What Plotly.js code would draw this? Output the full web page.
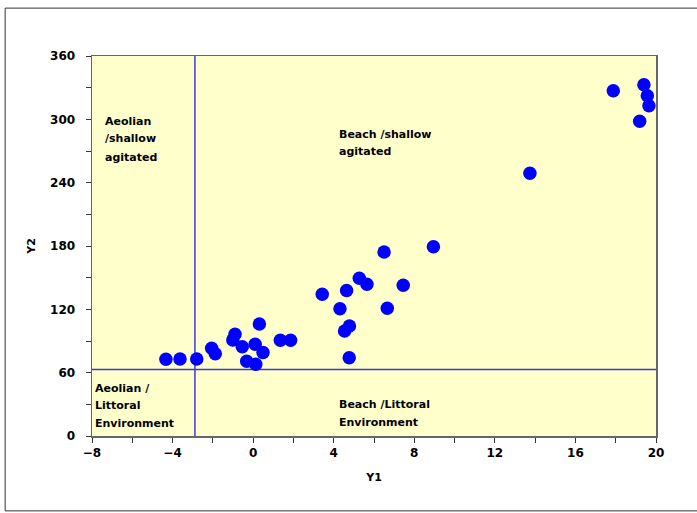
<!DOCTYPE html>
<html>
<head>
<meta charset="utf-8">
<script src="https://cdn.plot.ly/plotly-3.0.1.min.js"></script>
<style>html,body{margin:0;padding:0;background:#fff;}#chart{width:697px;height:513px;}</style>
</head>
<body>
<div id="chart"></div>
<script>
// Sample values (Y1, Y2)
var y1Values = [-4.33, -3.63, -2.80, -2.06, -1.88, -0.90, -1.01, -0.54, -0.32, 0.13, 0.10, 0.49, 0.31, 1.35, 1.86,
  3.43, 4.31, 4.64, 5.27, 5.65, 4.54, 4.78, 4.77, 6.50, 6.66, 7.45, 8.95, 13.74, 17.88, 19.40, 19.57, 19.65, 19.19];
var y2Values = [72.7, 72.9, 72.9, 83.1, 78.0, 96.3, 90.9, 84.6, 70.8, 68.0, 87.0, 79.1, 106.1, 90.8, 90.8,
  134.2, 120.6, 137.8, 149.4, 143.7, 99.5, 104.2, 74.2, 174.3, 121.0, 142.8, 179.3, 248.9, 327.1, 332.8, 322.4, 312.9, 298.1];

// Discriminant thresholds
var y1Threshold = -2.89;
var y2Threshold = 63;
var xRange = [-8, 20];
var yRange = [0, 360];

// Region labels
var regionLines = ["Aeolian", "/shallow", "agitated", "Beach /shallow", "agitated",
  "Aeolian /", "Littoral", "Environment", "Beach /Littoral", "Environment"];
var regionX = [-7.45, -7.45, -7.45, 4.15, 4.15, -7.97, -7.97, -7.97, 4.15, 4.15];
var regionY = [298.4, 281.4, 264.3, 285.8, 269.3, 45.2, 28.7, 12.0, 29.4, 12.6];

var lineColor = '#3a3ae0';
var traces = [
  {x: [y1Threshold, y1Threshold], y: yRange, mode: 'lines', line: {color: lineColor, width: 1.5}, hoverinfo: 'skip', showlegend: false},
  {x: xRange, y: [y2Threshold, y2Threshold], mode: 'lines', line: {color: lineColor, width: 1.5}, hoverinfo: 'skip', showlegend: false},
  {x: y1Values, y: y2Values, mode: 'markers', marker: {color: '#0000FF', size: 13.5}, showlegend: false}
];

var fontFam = 'DejaVu Sans, Verdana, sans-serif';
var annotations = regionLines.map(function(t, i) {
  return {x: regionX[i], y: regionY[i], xref: 'x', yref: 'y', text: '<b>' + t + '</b>', showarrow: false,
    xanchor: 'left', yanchor: 'middle', font: {family: fontFam, size: 11, color: '#000', weight: 'bold'}};
});

var layout = {
  width: 697, height: 513,
  margin: {l: 92, r: 41, t: 56, b: 77},
  paper_bgcolor: '#ffffff',
  plot_bgcolor: '#FFFFCC',
  showlegend: false,
  font: {family: fontFam, size: 12, color: '#000'},
  xaxis: {
    range: xRange, dtick: 4, tick0: -8, showgrid: false, zeroline: false,
    ticks: 'outside', ticklen: 5, tickcolor: '#333', tickwidth: 1,
    minor: {dtick: 2, ticks: 'outside', ticklen: 5, tickcolor: '#333', showgrid: false},
    showline: true, mirror: true, linecolor: '#666', linewidth: 1.5,
    tickfont: {family: fontFam, size: 12, weight: 'bold'},
    title: {text: '<b>Y1</b>', font: {family: fontFam, size: 11}, standoff: 14}
  },
  yaxis: {
    range: yRange, dtick: 60, tick0: 0, showgrid: false, zeroline: false,
    ticks: 'outside', ticklen: 5, tickcolor: '#333', tickwidth: 1,
    minor: {dtick: 30, ticks: 'outside', ticklen: 5, tickcolor: '#333', showgrid: false},
    showline: true, mirror: true, linecolor: '#666', linewidth: 1.5,
    tickfont: {family: fontFam, size: 12, weight: 'bold'},
    ticklabelstandoff: 8,
    title: {text: '<b>Y2</b>', font: {family: fontFam, size: 11}, standoff: 12}
  },
  annotations: annotations,
  shapes: [
    {type: 'rect', xref: 'paper', yref: 'paper', x0: -0.154, x1: 1.078, y0: -0.197, y1: 1.126,
      line: {color: '#333', width: 1}, fillcolor: 'rgba(0,0,0,0)', layer: 'below'}
  ]
};

Plotly.newPlot('chart', traces, layout, {staticPlot: true, displayModeBar: false});
</script>
</body>
</html>
